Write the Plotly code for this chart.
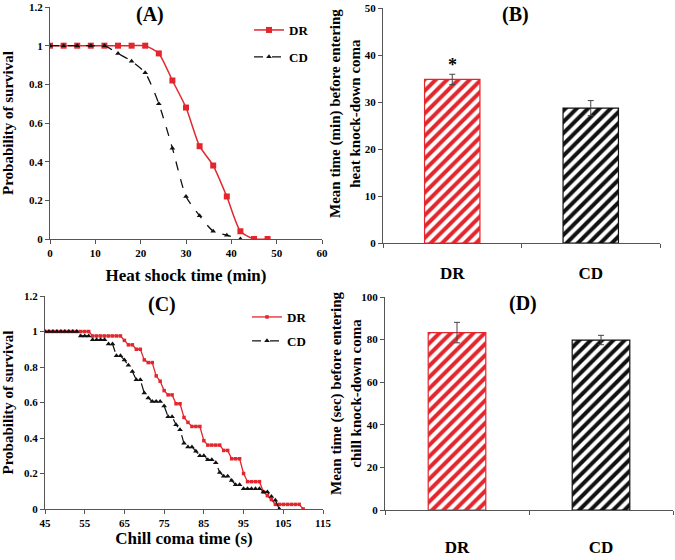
import plotly.graph_objects as go

# ---- panel A: heat shock survival ----
heat_time = [0, 3, 6, 9, 12, 15, 18, 21, 24, 27, 30, 33, 36, 39, 42, 45, 48]
heat_dr = [1, 1, 1, 1, 1, 1, 1, 1, 0.96, 0.82, 0.68, 0.48, 0.38, 0.22, 0.04, 0, 0]
heat_cd_time = [0, 3, 6, 9, 12, 15, 18, 21, 24, 27, 30, 33, 36, 39, 42]
heat_cd = [1, 1, 1, 1, 1, 0.96, 0.92, 0.86, 0.70, 0.47, 0.22, 0.12, 0.04, 0.02, 0]

# ---- panel C: chill coma survival (one point per second) ----
chill_dr_time = list(range(45, 111))
chill_dr = [1.0] * 12 + [0.975] * 8 + [
    0.95, 0.925, 0.925, 0.90, 0.90, 0.84, 0.825, 0.825, 0.75, 0.72,
    0.667, 0.643, 0.643, 0.593, 0.593, 0.516, 0.488, 0.465, 0.465, 0.465,
    0.385, 0.36, 0.36, 0.36, 0.36, 0.33, 0.33, 0.283, 0.283, 0.283,
    0.20, 0.154, 0.154, 0.154, 0.154, 0.096, 0.075, 0.053, 0.026, 0.026,
    0.026, 0.026, 0.026, 0.026, 0.026, 0.0]
chill_cd_time = list(range(45, 105))
chill_cd = [1.0] * 9 + [0.975] * 3 + [0.953] * 4 + [
    0.93, 0.93, 0.863, 0.863, 0.84, 0.81, 0.775, 0.728, 0.728, 0.653,
    0.625, 0.606, 0.606, 0.606, 0.58, 0.52, 0.52, 0.475, 0.447, 0.37,
    0.35, 0.35, 0.325, 0.30, 0.30, 0.277, 0.277, 0.26, 0.206, 0.184,
    0.184, 0.16, 0.137, 0.137, 0.114, 0.114, 0.114, 0.114, 0.114, 0.096,
    0.096, 0.07, 0.05, 0.0]

# ---- panels B and D: mean knock-down times ----
groups = ['DR', 'CD']
heat_mean = [34.8, 28.7]
heat_err = [1.1, 1.6]
chill_mean = [83.3, 79.8]
chill_err = [4.8, 2.2]

RED = '#e3262d'
BLACK = '#111111'
AXIS = '#555555'
FONT = 'Liberation Serif, Times New Roman, serif'

W, H = 675, 560


def px_x(x):
    return min(1, max(0, x / W))


def px_y(y):
    return min(1, max(0, 1 - y / H))


def dom_x(a, b):
    return [px_x(a), px_x(b)]


def dom_y(top, bottom):
    return [px_y(bottom), px_y(top)]


fig = go.Figure()

# A
fig.add_trace(go.Scatter(x=heat_time, y=heat_dr, name='DR', mode='lines+markers',
                         line=dict(color=RED, width=1.5, shape='spline', smoothing=0.6),
                         marker=dict(symbol='square', size=6, color=RED),
                         xaxis='x', yaxis='y', legend='legend', legendgroup='a_dr'))
fig.add_trace(go.Scatter(x=heat_cd_time, y=heat_cd, name='CD', mode='lines+markers',
                         line=dict(color=BLACK, width=1.3, dash='dash', shape='spline', smoothing=0.6),
                         marker=dict(symbol='triangle-up', size=5, color=BLACK),
                         xaxis='x', yaxis='y', legend='legend', legendgroup='a_cd'))


def bar_marker(col):
    return dict(color='white', line=dict(color=col, width=1.2),
                pattern=dict(shape='/', fgcolor=col, bgcolor='white', fgopacity=1,
                             size=8, solidity=0.5))


# B
for i, g in enumerate(groups):
    col = RED if g == 'DR' else BLACK
    fig.add_trace(go.Bar(x=[g], y=[heat_mean[i]], width=0.4, showlegend=False,
                         marker=bar_marker(col),
                         error_y=dict(type='data', array=[heat_err[i]], color='#444444',
                                      thickness=1, width=3),
                         xaxis='x2', yaxis='y2'))

# C
fig.add_trace(go.Scatter(x=chill_dr_time, y=chill_dr, name='DR', mode='lines+markers',
                         line=dict(color=RED, width=1.3),
                         marker=dict(symbol='square', size=3.5, color=RED),
                         xaxis='x3', yaxis='y3', legend='legend2', legendgroup='c_dr'))
fig.add_trace(go.Scatter(x=chill_cd_time, y=chill_cd, name='CD', mode='lines+markers',
                         line=dict(color=BLACK, width=1.2, dash='dash'),
                         marker=dict(symbol='triangle-up', size=5, color=BLACK),
                         xaxis='x3', yaxis='y3', legend='legend2', legendgroup='c_cd'))

# D
for i, g in enumerate(groups):
    col = RED if g == 'DR' else BLACK
    fig.add_trace(go.Bar(x=[g], y=[chill_mean[i]], width=0.4, showlegend=False,
                         marker=bar_marker(col),
                         error_y=dict(type='data', array=[chill_err[i]], color='#444444',
                                      thickness=1, width=3),
                         xaxis='x4', yaxis='y4'))

tickfont = dict(family=FONT, size=11, color='black', weight='bold')
catfont = dict(family=FONT, size=17, color='black', weight='bold')
common = dict(showline=True, linecolor=AXIS, linewidth=1, showgrid=False, zeroline=False,
              ticks='outside', ticklen=4, tickcolor=AXIS, automargin=False)

fig.update_layout(
    width=W, height=H,
    margin=dict(l=0, r=0, t=0, b=0),
    paper_bgcolor='white', plot_bgcolor='white',
    font=dict(family=FONT, color='black'),
    xaxis=dict(domain=dom_x(50, 322), range=[0, 60.001], dtick=10, anchor='y', tickfont=tickfont,
               title=dict(text='<b>Heat shock time (min)</b>', font=dict(family=FONT, size=17), standoff=10),
               **common),
    yaxis=dict(domain=dom_y(7, 239), range=[0, 1.2001], dtick=0.2, anchor='x', tickfont=tickfont,
               title=dict(text='<b>Probability of survival</b>', font=dict(family=FONT, size=15), standoff=12),
               **common),
    xaxis2=dict(domain=dom_x(383, 660), range=[-0.5, 1.5], anchor='y2', tickson='boundaries',
                ticklabelstandoff=15, tickfont=catfont, **common),
    yaxis2=dict(domain=dom_y(8, 243), range=[0, 50.001], dtick=10, anchor='x2', tickfont=tickfont,
                **common),
    xaxis3=dict(domain=dom_x(45, 323), range=[45, 115.001], tick0=45, dtick=10, anchor='y3',
                tickfont=tickfont,
                title=dict(text='<b>Chill coma time (s)</b>', font=dict(family=FONT, size=17), standoff=2),
                **common),
    yaxis3=dict(domain=dom_y(296, 509), range=[0, 1.2001], dtick=0.2, anchor='x3', tickfont=tickfont,
                title=dict(text='<b>Probability of survival</b>', font=dict(family=FONT, size=15), standoff=12),
                **common),
    xaxis4=dict(domain=dom_x(385, 673), range=[-0.5, 1.5], anchor='y4', tickson='boundaries',
                ticklabelstandoff=22, tickfont=catfont, **common),
    yaxis4=dict(domain=dom_y(297, 510), range=[0, 100.001], dtick=20, anchor='x4', tickfont=tickfont,
                **common),
    legend=dict(x=px_x(249), y=px_y(15), xanchor='left', yanchor='top',
                font=dict(family=FONT, size=13, color='black', weight='bold'),
                bgcolor='rgba(0,0,0,0)', tracegroupgap=7, itemwidth=30),
    legend2=dict(x=px_x(247), y=px_y(302), xanchor='left', yanchor='top',
                 font=dict(family=FONT, size=13, color='black', weight='bold'),
                 bgcolor='rgba(0,0,0,0)', tracegroupgap=4, itemwidth=30),
)

# bar chart axis titles (two lines, set a little above the axis centre as in the original)
for text, px, py in [('Mean time (min) before entering<br>heat knock-down coma', 345, 114),
                     ('Mean time (sec) before entering<br>chill knock-down coma', 346, 394)]:
    fig.add_annotation(text='<b>%s</b>' % text, x=px_x(px), y=px_y(py), xref='paper', yref='paper',
                       xanchor='center', yanchor='middle', textangle=-90, showarrow=False,
                       font=dict(family=FONT, size=15, color='black'))

panel_font = dict(family=FONT, size=20, color='black')
for label, px, py in [('(A)', 150, 14), ('(B)', 515, 14), ('(C)', 162, 304), ('(D)', 523, 303)]:
    fig.add_annotation(text='<b>%s</b>' % label, x=px_x(px), y=px_y(py), xref='paper', yref='paper',
                       xanchor='center', yanchor='middle', showarrow=False, font=panel_font)

# significance mark above the DR bar (the glyph sits high in its text box)
fig.add_annotation(text='<b>*</b>', x='DR', y=heat_mean[0] + heat_err[0] + 1.9, xref='x2', yref='y2',
                   xanchor='center', yanchor='middle', showarrow=False,
                   font=dict(family=FONT, size=18, color='black'))

# drop the page's default 8px body margin so the figure fills the window
fig.write_html('out.html', config={'displayModeBar': False},
               post_script="document.body.style.margin='0';")
